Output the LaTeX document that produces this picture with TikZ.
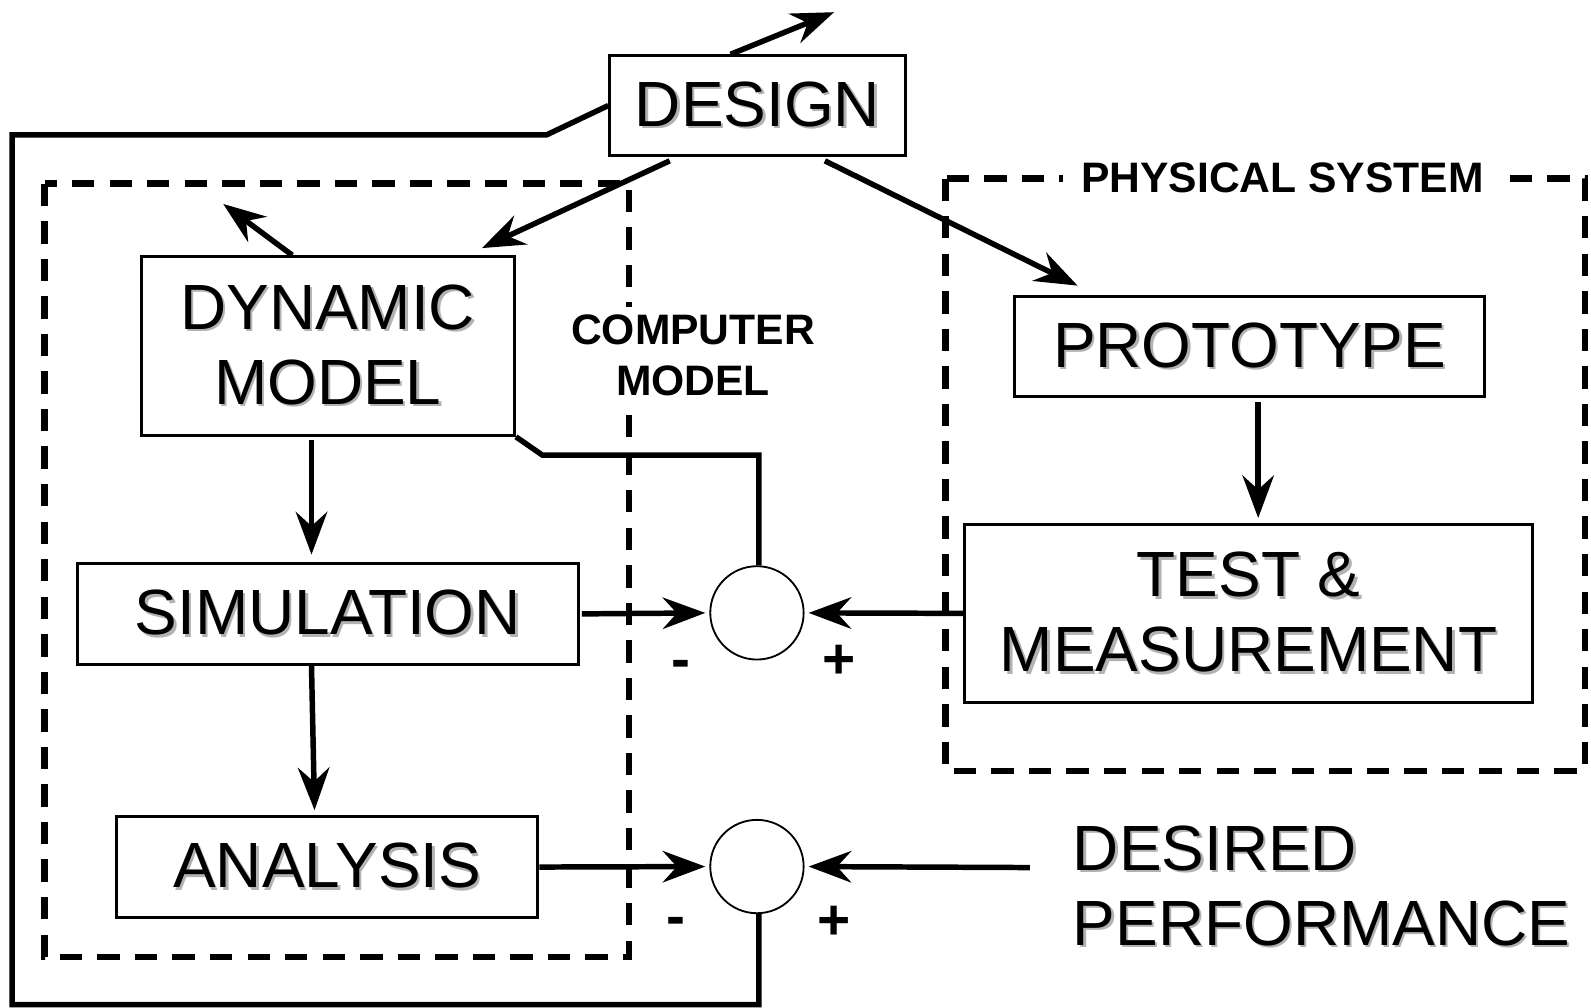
\documentclass[tikz,border=0pt]{standalone}
\usepackage{fontspec}
\setmainfont{Liberation Sans}
\usetikzlibrary{arrows.meta,calc}
% large caption text with a soft grey drop shadow
\newcommand\shd[1]{\makebox[0pt][l]{\hspace{1.2pt}\raisebox{-1.2pt}{\textcolor{black!30}{#1}}}#1}
\begin{document}
\begin{tikzpicture}[x=0.5pt,y=-0.5pt,
  blk/.style={draw, line width=1.5pt, fill=white, align=center, inner sep=0pt,
              font=\fontsize{31.5}{37}\selectfont},
  sumc/.style={circle, draw, line width=0.9pt, minimum size=46pt, inner sep=0pt},
  conn/.style={line width=2.7pt},
  arr/.style={conn, -{Stealth[length=21pt,width=15.5pt,inset=7pt]}},
  grp/.style={line width=3.2pt, dash pattern=on 11pt off 7.5pt},
  grplabel/.style={fill=white, align=center, font=\fontsize{21}{25}\selectfont\bfseries},
  sign/.style={inner sep=0pt, font=\fontsize{28}{30}\selectfont\bfseries}
]
\useasboundingbox (0,0) rectangle (1568,993);

% dashed groups
\draw[grp] (44,181) rectangle (620,943);
\draw[grp] (932,176) rectangle (1562,760);
\node[grplabel, inner sep=4pt] (cmlab) at (683,350) {COMPUTER\\MODEL};
\node[grplabel, inner xsep=9pt, inner ysep=2pt] (pslab) at (1264,175) {PHYSICAL SYSTEM};

% blocks
\node[blk, minimum width=145.5pt, minimum height=49pt] (des) at (746.5,104) {\shd{DESIGN}};
\node[blk, minimum width=184pt, minimum height=88pt] (dyn) at (323,341) {\shd{DYNAMIC}\\\shd{MODEL}};
\node[blk, minimum width=247pt, minimum height=50pt] (sim) at (323,605) {\shd{SIMULATION}};
\node[blk, minimum width=207.5pt, minimum height=49.5pt] (ana) at (322.5,854.5) {\shd{ANALYSIS}};
\node[blk, minimum width=231.5pt, minimum height=49.5pt] (pro) at (1231.5,341.5) {\shd{PROTOTYPE}};
\node[blk, minimum width=279.5pt, minimum height=87.5pt] (tst) at (1230.5,604.5) {\shd{TEST \&}\\\shd{MEASUREMENT}};

% summing junctions
\node[sumc] (c1) at (746,604) {};
\node[sumc] (c2) at (746,854) {};
\node[sign] (m1) at (671,660) {-};
\node[sign] (p1) at (827,652) {+};
\node[sign] (m2) at (666,913) {-};
\node[sign] (p2) at (822,909) {+};

% reference input
\node[anchor=west, inner sep=0pt, align=left, font=\fontsize{31.5}{37}\selectfont]
  (dp) at (1057,874) {\shd{DESIRED}\\\shd{PERFORMANCE}};

% free ends
\coordinate (desout) at (822,12);
\coordinate (dynout) at (220,201);
\coordinate (dpin) at (1015,855);
\coordinate (loop) at (12,990);

% connectors
\draw[arr] ([xshift=-13.25pt]des.north) -- (desout);
\draw[arr] ([xshift=-17.5pt]dyn.north) -- (dynout);
\draw[arr] ([xshift=-43.25pt,yshift=-2pt]des.south) -- ([xshift=76pt,yshift=3.5pt]dyn.north);
\draw[arr] ([xshift=33.25pt,yshift=-2pt]des.south) -- ([xshift=-84.75pt,yshift=4.5pt]pro.north);
\draw[arr] ([xshift=4.25pt,yshift=-2pt]pro.south) -- ([xshift=4.75pt,yshift=2.5pt]tst.north);
\draw[arr] ([xshift=-8pt,yshift=-1.5pt]dyn.south) -- ([xshift=-8pt,yshift=3.5pt]sim.north);
\draw[arr] ([xshift=-8pt]sim.south) -- ([xshift=-6.25pt,yshift=2.5pt]ana.north);
\draw[arr, shorten >=2pt] ([xshift=1pt]sim.east) -- (c1.west);
\draw[arr, shorten >=2pt] (tst.west) -- (c1.east);
\draw[arr, shorten >=2pt] (ana.east) -- (c2.west);
\draw[arr, shorten >=2pt] (dpin) -- (c2.east);
\draw[conn] (dyn.south east) -- ++(13pt,-9pt) -| ([xshift=1pt]c1.north);
\draw[conn] ([xshift=1pt]c2.south) |- (loop) |- ($(des.west)+(-30.5pt,-14.5pt)$) -- (des.west);
\end{tikzpicture}
\end{document}
